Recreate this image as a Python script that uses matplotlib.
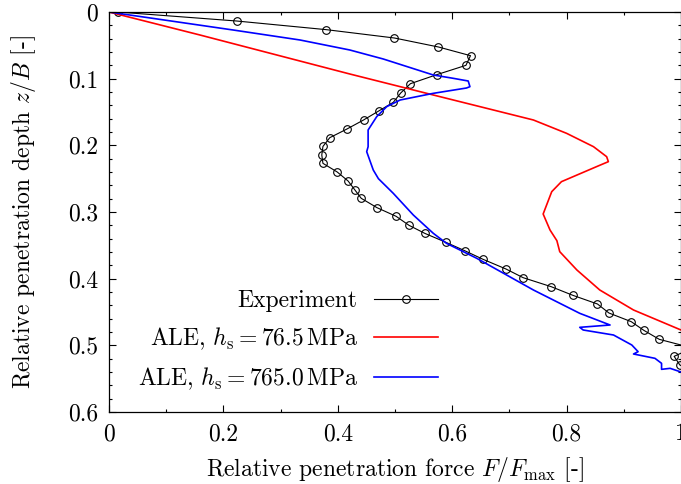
import matplotlib
matplotlib.use("Agg")
import matplotlib.pyplot as plt
from matplotlib.ticker import MultipleLocator, FuncFormatter

# Datos
exp_force = [0.015, 0.223, 0.380, 0.499, 0.576, 0.632, 0.624, 0.573, 0.527, 0.510,
             0.497, 0.4715, 0.445, 0.416, 0.386, 0.374, 0.372, 0.374, 0.399, 0.418,
             0.4295, 0.441, 0.4685, 0.502, 0.5245, 0.552, 0.589, 0.623, 0.654, 0.694,
             0.724, 0.773, 0.811, 0.854, 0.874, 0.913, 0.935, 0.962, 1.02, 0.988,
             0.998, 1.03]
exp_depth = [0.0, 0.0135, 0.0265, 0.039, 0.0525, 0.0655, 0.080, 0.094, 0.1075, 0.1215,
             0.1355, 0.1485, 0.162, 0.1755, 0.1885, 0.2017, 0.2145, 0.227, 0.240, 0.2535,
             0.2665, 0.2795, 0.2935, 0.3065, 0.320, 0.332, 0.3455, 0.3585, 0.371, 0.3855,
             0.3985, 0.412, 0.425, 0.438, 0.4515, 0.4645, 0.4775, 0.491, 0.504, 0.5165,
             0.5295, 0.543]

ale_soft_force = [0.0, 0.159, 0.421, 0.567, 0.742, 0.800, 0.847, 0.870, 0.873, 0.855,
                  0.791, 0.774, 0.759, 0.771, 0.783, 0.788, 0.818, 0.858, 0.917, 1.0,
                  1.05]
ale_soft_depth = [0.0, 0.0345, 0.093, 0.1245, 0.162, 0.182, 0.202, 0.217, 0.2245, 0.231,
                  0.2545, 0.2695, 0.303, 0.327, 0.343, 0.3595, 0.387, 0.417, 0.447, 0.477,
                  0.49]

ale_hard_force = [0.0, 0.217, 0.334, 0.421, 0.4795, 0.567, 0.602, 0.628, 0.631, 0.625,
                  0.567, 0.509, 0.4855, 0.468, 0.453, 0.453, 0.4505, 0.462, 0.471, 0.497,
                  0.532, 0.567, 0.590, 0.643, 0.742, 0.823, 0.876, 0.823, 0.829, 0.882,
                  0.914, 0.925, 0.917, 0.9545, 0.966, 0.966, 0.981, 1.0, 1.03]
ale_hard_depth = [0.0, 0.027, 0.042, 0.057, 0.0705, 0.0945, 0.0995, 0.1035, 0.112, 0.114,
                  0.122, 0.132, 0.142, 0.157, 0.177, 0.202, 0.2095, 0.237, 0.250, 0.272,
                  0.3045, 0.332, 0.347, 0.3695, 0.417, 0.452, 0.4695, 0.473, 0.477, 0.4845,
                  0.4995, 0.5095, 0.513, 0.5195, 0.527, 0.536, 0.5345, 0.540, 0.545]

labels = ["Experiment",
          r"ALE, $h_{\mathrm{s}} = 76.5\,\mathrm{MPa}$",
          r"ALE, $h_{\mathrm{s}} = 765.0\,\mathrm{MPa}$"]

plt.rcParams["font.family"] = "serif"
plt.rcParams["font.serif"] = ["cmr10"]
plt.rcParams["mathtext.fontset"] = "cm"
plt.rcParams["axes.formatter.use_mathtext"] = True
plt.rcParams["font.size"] = 17

fig = plt.figure(figsize=(6.81, 4.84), dpi=100)
ax = fig.add_axes([109 / 681, 1 - 412 / 484, 572 / 681, 400 / 484])

ax.plot(exp_force, exp_depth, color="black", lw=0.8, marker="o", ms=5.5,
        mfc="none", mec="black", mew=0.8, label=labels[0])
ax.plot(ale_soft_force, ale_soft_depth, color="red", lw=1.2, label=labels[1])
ax.plot(ale_hard_force, ale_hard_depth, color="blue", lw=1.2, label=labels[2])

ax.set_xlim(0, 1)
ax.set_ylim(0.6, 0)
ax.xaxis.set_major_locator(MultipleLocator(0.2))
ax.xaxis.set_minor_locator(MultipleLocator(0.1))
ax.yaxis.set_major_locator(MultipleLocator(0.1))
ax.yaxis.set_minor_locator(MultipleLocator(0.02))
fmt = FuncFormatter(lambda v, p: "%g" % round(v, 3))
ax.xaxis.set_major_formatter(fmt)
ax.yaxis.set_major_formatter(fmt)
ax.tick_params(which="both", direction="in", top=True, right=True, width=0.8)
ax.tick_params(which="major", length=5, pad=8)
ax.tick_params(which="minor", length=2.5)
for s in ax.spines.values():
    s.set_linewidth(0.9)

ax.set_xlabel(r"Relative penetration force $F/F_{\mathrm{max}}$ [-]", labelpad=7)
ax.set_ylabel(r"Relative penetration depth $z/B$ [-]", labelpad=21)

ax.legend(loc="center right", bbox_to_anchor=(438 / 681, 1 - 341 / 484),
          bbox_transform=fig.transFigure, frameon=False, markerfirst=False,
          numpoints=1, handlelength=2.7, handletextpad=0.7, labelspacing=0.56,
          borderpad=0, borderaxespad=0)

fig.savefig("out.png", dpi=100)
